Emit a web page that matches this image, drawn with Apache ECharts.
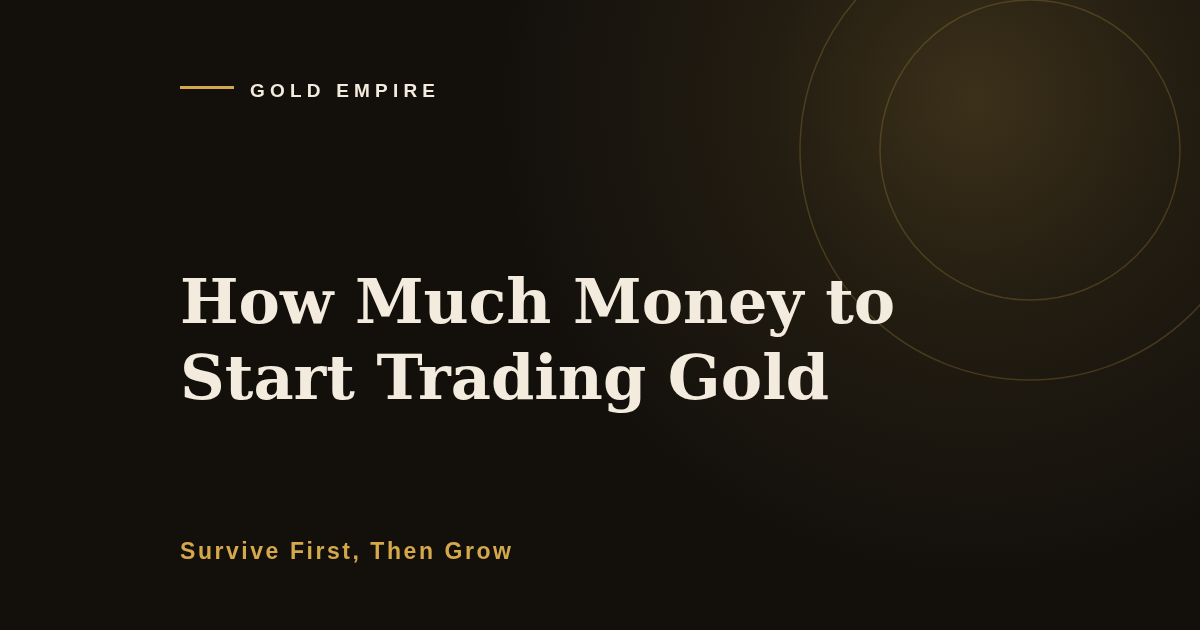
<!DOCTYPE html>
<html lang="en">
<head>
    <meta charset="UTF-8">
    <title>Gold Empire</title>
    <script src="https://cdn.jsdelivr.net/npm/echarts@6/dist/echarts.min.js"></script>
    <style>
        body { margin: 0; background: #13100c; }
    </style>
</head>
<body>
    <div id="main" style="width:1200px;height:630px;"></div>
    <script>
        // texts of the card
        let brand = ['GOLD EMPIRE'];
        let titleLines = ['How Much Money to', 'Start Trading Gold'];
        let tagline = ['Survive First, Then Grow'];
        // decorative rings: [cx, cy, r]
        let rings = [[1030, 150, 230], [1030, 150, 150]];

        let chart = echarts.init(document.getElementById('main'));
        let measure = document.createElement('canvas').getContext('2d');

        // zrender has no letter-spacing, so lay the letters out one by one
        function spacedText(str, x, y, font, spacing, color) {
            measure.font = font;
            let items = [];
            let cx = x;
            for (let i = 0; i < str.length; i++) {
                let ch = str[i];
                items.push({
                    type: 'text',
                    x: cx,
                    y: y,
                    style: {
                        text: ch,
                        font: font,
                        fill: color,
                        verticalAlign: 'middle'
                    }
                });
                cx += measure.measureText(ch).width + spacing;
            }
            return items;
        }

        let elements = [
            {
                type: 'rect',
                shape: { x: 0, y: 0, width: 1200, height: 630 },
                style: { fill: '#13100c' }
            },
            {
                type: 'circle',
                shape: { cx: 975, cy: 100, r: 480 },
                style: {
                    fill: new echarts.graphic.RadialGradient(0.5, 0.5, 0.5, [
                        { offset: 0, color: 'rgba(212,168,75,0.21)' },
                        { offset: 0.45, color: 'rgba(212,168,75,0.08)' },
                        { offset: 1, color: 'rgba(212,168,75,0)' }
                    ])
                }
            }
        ];

        rings.forEach(function (r) {
            elements.push({
                type: 'circle',
                shape: { cx: r[0], cy: r[1], r: r[2] },
                style: { fill: 'none', stroke: 'rgba(212,168,75,0.22)', lineWidth: 1.5 }
            });
        });

        // brand line + label
        elements.push({
            type: 'rect',
            shape: { x: 180, y: 86, width: 54, height: 3 },
            style: { fill: '#d4a84b' }
        });
        elements = elements.concat(spacedText(brand[0], 250, 92, '700 19px "Liberation Sans"', 5.2, '#f3ebdd'));

        // title
        titleLines.forEach(function (line, i) {
            elements.push({
                type: 'text',
                x: 180,
                y: 307 + i * 76,
                style: {
                    text: line,
                    font: '700 62px "DejaVu Serif"',
                    fill: '#f3ebdd',
                    verticalAlign: 'middle'
                }
            });
        });

        // tagline
        elements = elements.concat(spacedText(tagline[0], 180, 553, '700 23px "Liberation Sans"', 2.55, '#d4a84b'));

        chart.setOption({
            backgroundColor: '#13100c',
            animation: false,
            graphic: { elements: elements }
        });
    </script>
</body>
</html>
